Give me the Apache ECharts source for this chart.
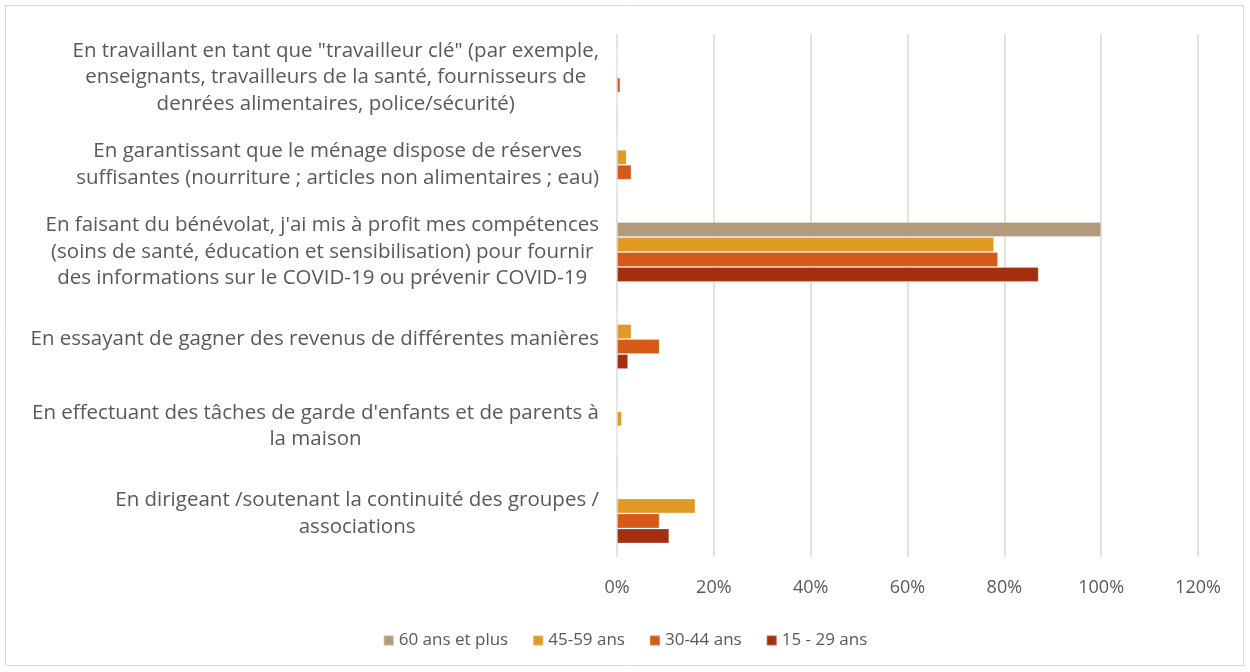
<!DOCTYPE html>
<html>
<head>
<meta charset="utf-8">
<script src="https://cdn.jsdelivr.net/npm/echarts@6/dist/echarts.min.js"></script>
<style>
  html, body { margin: 0; padding: 0; background: #fff; }
  #chart { width: 1250px; height: 672px; }
</style>
</head>
<body>
<div id="chart"></div>
<script>
// categories, top to bottom (line breaks as in the original)
const categories = [
  'En travaillant en tant que "travailleur clé" (par exemple,\nenseignants, travailleurs de la santé, fournisseurs de\ndenrées alimentaires, police/sécurité)',
  'En garantissant que le ménage dispose de réserves\nsuffisantes (nourriture ; articles non alimentaires ; eau)',
  "En faisant du bénévolat, j'ai mis à profit mes compétences\n(soins de santé, éducation et sensibilisation) pour fournir\ndes informations sur le COVID-19 ou prévenir COVID-19",
  'En essayant de gagner des revenus de différentes manières',
  "En effectuant des tâches de garde d'enfants et de parents à\nla maison",
  'En dirigeant /soutenant la continuité des groupes /\nassociations'
];

const seriesNames = ['60 ans et plus', '45-59 ans', '30-44 ans', '15 - 29 ans'];
const seriesColors = ['#B29B7C', '#E29A27', '#D55A17', '#A42F10'];

// values in %
const age60plus = [0, 0, 100, 0, 0, 0];
const age45_59 = [0, 2.0, 77.9, 3.0, 1.0, 16.2];
const age30_44 = [0.7, 3.0, 78.7, 8.8, 0, 8.8];
const age15_29 = [0, 0, 87.1, 2.3, 0, 10.8];

const xTicks = { min: 0, max: 120, interval: 20 };

const seriesData = [age60plus, age45_59, age30_44, age15_29];

const myChart = echarts.init(document.getElementById('chart'));

const labelFont = '"Open Sans", Lato, sans-serif';

myChart.setOption({
  backgroundColor: '#fff',
  animation: false,
  graphic: [{
    type: 'rect',
    shape: { x: 5.5, y: 5.5, width: 1238, height: 660 },
    style: { fill: 'none', stroke: '#d9d9d9', lineWidth: 1 }
  }],
  grid: { left: 617, right: 52, top: 34, bottom: 115 },
  legend: {
    bottom: 18,
    left: 'center',
    itemWidth: 10,
    itemHeight: 10,
    itemGap: 24,
    icon: 'rect',
    textStyle: { color: '#595959', fontSize: 17, fontFamily: labelFont },
    data: seriesNames
  },
  xAxis: {
    type: 'value',
    min: xTicks.min,
    max: xTicks.max,
    interval: xTicks.interval,
    axisLine: { show: false },
    axisTick: { show: false },
    axisLabel: {
      formatter: '{value}%',
      color: '#595959',
      fontSize: 18,
      fontFamily: labelFont,
      margin: 22
    },
    splitLine: { lineStyle: { color: '#d9d9d9', width: 1.5 } }
  },
  yAxis: {
    type: 'category',
    inverse: true,
    data: categories,
    axisLine: { show: false },
    axisTick: { show: false },
    axisLabel: {
      margin: 18,
      align: 'right',
      formatter: (v) => v.split('\n').map(l => '{c|' + l + '}').join('\n'),
      rich: {
        c: {
          align: 'center',
          color: '#595959',
          fontSize: 20.5,
          lineHeight: 26.5,
          fontFamily: labelFont
        }
      }
    }
  },
  series: seriesNames.map((name, i) => ({
    type: 'bar',
    name: name,
    data: seriesData[i],
    barWidth: 15,
    barGap: '0%',
    itemStyle: {
      color: seriesColors[i],
      borderColor: 'rgba(255,255,255,0.25)',
      borderWidth: 1
    }
  }))
});
</script>
</body>
</html>
